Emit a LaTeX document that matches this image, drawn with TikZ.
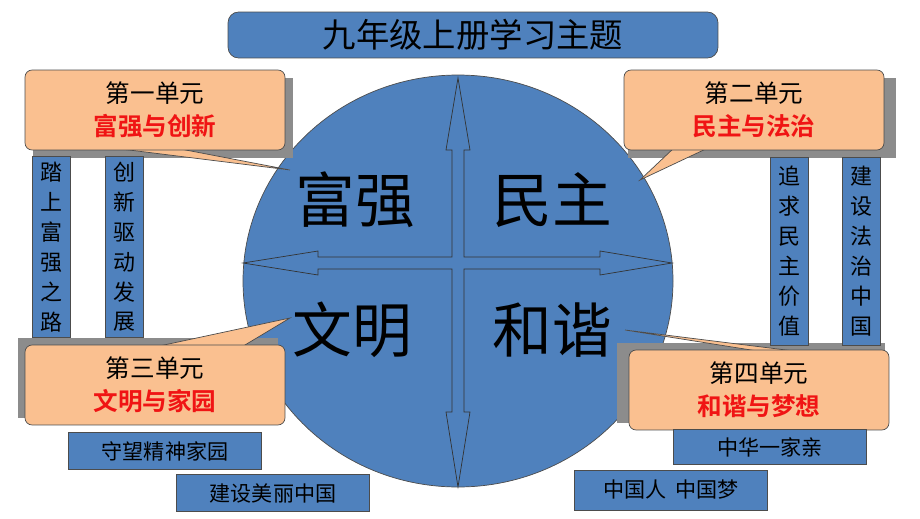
\documentclass[tikz,border=0pt]{standalone}
\usepackage{fontspec}
\setmainfont{Noto Sans CJK SC}
\newfontfamily\boldcjk{Noto Sans CJK SC Bold}
\usetikzlibrary{calc}
\definecolor{topicblue}{RGB}{79,129,189}
\definecolor{unitorange}{RGB}{250,192,144}
\definecolor{unitred}{RGB}{240,20,20}
\tikzset{
	topicbox/.style = {draw=black!70, fill=topicblue, inner sep=0pt},
	unitbox/.style = {draw=black!70, fill=unitorange, rounded corners=4pt, minimum width=5.2cm, minimum height=1.6cm, align=center, font=\fontsize{14}{19}\selectfont},
	vbox/.style = {topicbox, minimum width=0.76cm, align=center, font=\fontsize{12.5}{17}\selectfont},
	hbox/.style = {topicbox, minimum width=3.85cm, minimum height=0.74cm, font=\fontsize{12}{14}\selectfont},
	bigword/.style = {font=\fontsize{34}{36}\selectfont},
}
\newcommand{\unitname}[1]{{\boldcjk\color{unitred}#1}}
\begin{document}
\begin{tikzpicture}[x=0.02cm, y=-0.02cm]
	\useasboundingbox (0,0) rectangle (920,518);
	% title
	\node[topicbox, rounded corners=6pt, minimum width=9.8cm, minimum height=0.92cm, font=\fontsize{19}{22}\selectfont] (title) at (473,35) {九年级上册学习主题};
	% circle and cross arrows
	\draw[black!70, fill=topicblue] (458,281) ellipse [x radius=215, y radius=206];
	\draw[black!80, fill=topicblue] (458,78) -- (470,150) -- (464,150) -- (464,257) -- (600,257) -- (600,251) -- (672,263)
		-- (600,275) -- (600,269) -- (464,269) -- (464,412) -- (470,412) -- (458,487) -- (446,412) -- (452,412)
		-- (452,269) -- (318,269) -- (318,275) -- (243,263) -- (318,251) -- (318,257) -- (452,257) -- (452,150) -- (446,150) -- cycle;
	\node[bigword] (fq) at (355,200) {富强};
	\node[bigword] (mz) at (552,200) {民主};
	\node[bigword] (wm) at (352,330) {文明};
	\node[bigword] (hx) at (552,330) {和谐};
	% unit callouts
	\fill[black!45] (33,78) rectangle (293,158);
	\fill[black!45] (628,78) rectangle (896,158);
	\fill[black!45] (18,338) rectangle (278,418);
	\fill[black!45] (617,343) rectangle (885,423);
	\fill[unitorange, draw=black!70] (105,147) -- (290,170) -- (170,147) -- cycle;
	\fill[unitorange, draw=black!70] (710,147) -- (640,180) -- (675,147) -- cycle;
	\fill[unitorange, draw=black!70] (150,348) -- (290,318) -- (240,348) -- cycle;
	\fill[unitorange, draw=black!70] (770,353) -- (625,330) -- (810,353) -- cycle;
	\node[unitbox] (u1) at (155,110) {第一单元\\\unitname{富强与创新}};
	\node[unitbox] (u2) at (754,110) {第二单元\\\unitname{民主与法治}};
	\node[unitbox] (u3) at (155,385) {第三单元\\\unitname{文明与家园}};
	\node[unitbox] (u4) at (759,390) {第四单元\\\unitname{和谐与梦想}};
	% sub topics
	\node[vbox, minimum height=3.62cm] (s1) at (51,247) {踏\\上\\富\\强\\之\\路};
	\node[vbox, minimum height=3.62cm] (s2) at (124,247) {创\\新\\驱\\动\\发\\展};
	\node[vbox, minimum height=3.76cm] (s3) at (789,251) {追\\求\\民\\主\\价\\值};
	\node[vbox, minimum height=3.76cm] (s4) at (861,251) {建\\设\\法\\治\\中\\国};
	\node[hbox] (s5) at (165,451) {守望精神家园};
	\node[hbox] (s6) at (273,493) {建设美丽中国};
	\node[hbox, minimum height=0.7cm] (s7) at (770,447) {中华一家亲};
	\node[hbox, minimum height=0.8cm] (s8) at (671,490) {中国人\ \ 中国梦};
\end{tikzpicture}
\end{document}
